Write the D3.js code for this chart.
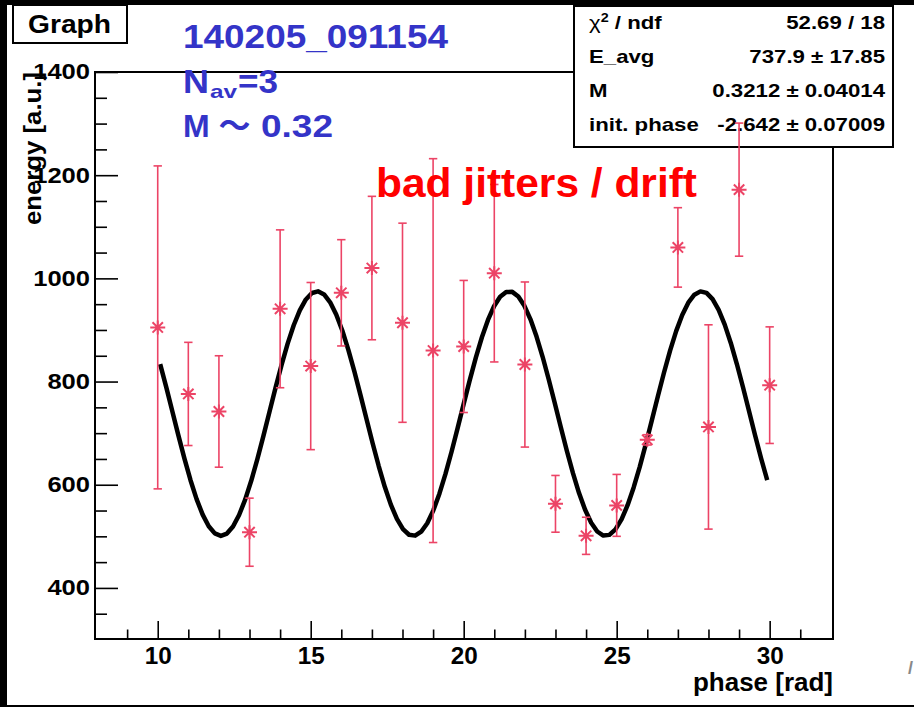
<!DOCTYPE html>
<html>
<head>
<meta charset="utf-8">
<script src="https://cdn.jsdelivr.net/npm/d3@7"></script>
<style>
  html, body { margin: 0; padding: 0; background: #000; }
  svg { display: block; }
  text { font-family: "Liberation Sans", Arial, Helvetica, sans-serif; font-weight: bold; }
</style>
</head>
<body>
<svg id="chart" width="914" height="707"></svg>
<script>
// Measured energy per phase step, with its error
const phase = [10, 11, 12, 13, 14, 15, 16, 17, 18, 19, 20, 21, 22, 23, 24, 25, 26, 27, 28, 29, 30];
const energy = [905, 776, 742, 508, 941, 830, 972, 1020, 914, 860, 868, 1010, 833, 563, 501, 560, 687, 1060, 712, 1172, 793];
const energyErr = [313, 100, 108, 66, 153, 162, 103, 139, 193, 372, 128, 172, 160, 55, 36, 60, 10, 77, 198, 129, 113];

// Fit result: E(phi) = E_avg * (1 + M * cos(phi + init.phase))
const fitEavg = 737.9;
const fitM = 0.3212;
const fitInitPhase = -2.642;
const fitRange = [10.08, 29.92];
const fitSamples = 100;

// Axis ticks
const xMajorTicks = [10, 15, 20, 25, 30];
const xMinorTicks = [9, 11, 12, 13, 14, 16, 17, 18, 19, 21, 22, 23, 24, 26, 27, 28, 29, 31];
const yMajorTicks = [400, 600, 800, 1000, 1200, 1400];
const yMinorTicks = [350, 450, 500, 550, 650, 700, 750, 850, 900, 950, 1050, 1100, 1150, 1250, 1300, 1350];

// Statistics box rows
const statNames = ["χ2 / ndf", "E_avg", "M", "init. phase"];
const statValues = ["52.69 / 18", "737.9 ± 17.85", "0.3212 ± 0.04014", "-2.642 ± 0.07009"];

const svg = d3.select("#chart");
const W = 914, H = 707;
const frame = { left: 95, right: 833, top: 72, bottom: 639 };

const x = d3.scaleLinear().domain([7.95, 32.07]).range([frame.left, frame.right]);
const y = d3.scaleLinear().domain([301, 1400]).range([frame.bottom, frame.top]);

const markColor = "#ec4466";

// widen a text element horizontally by a factor of its natural width
function stretch(sel, factor) {
  sel.each(function () {
    const w = this.getComputedTextLength();
    d3.select(this).attr("textLength", w * factor).attr("lengthAdjust", "spacingAndGlyphs");
  });
  return sel;
}

// page background
svg.append("rect").attr("width", W).attr("height", H).attr("fill", "#000");
svg.append("rect").attr("x", 7).attr("y", 5).attr("width", W - 7).attr("height", 700).attr("fill", "#fff");

// title box
svg.append("rect").attr("x", 13).attr("y", 5).attr("width", 114).attr("height", 38)
  .attr("fill", "#fff").attr("stroke", "#000").attr("stroke-width", 2);
svg.append("text").attr("x", 28).attr("y", 33).attr("font-size", 25.5)
  .attr("textLength", 83).attr("lengthAdjust", "spacingAndGlyphs").text("Graph");

// axes: minor and major ticks, drawn inward
const gx = svg.append("g").attr("transform", `translate(0,${frame.bottom})`);
gx.call(d3.axisBottom(x).tickValues(xMinorTicks).tickSize(-9.5).tickSizeOuter(0).tickFormat(""));
const gxMaj = svg.append("g").attr("transform", `translate(0,${frame.bottom})`);
gxMaj.call(d3.axisBottom(x).tickValues(xMajorTicks).tickSize(-18).tickSizeOuter(0).tickPadding(7.6).tickFormat(d3.format("d")));

const gy = svg.append("g").attr("transform", `translate(${frame.left},0)`);
gy.call(d3.axisLeft(y).tickValues(yMinorTicks).tickSize(-12).tickSizeOuter(0).tickFormat(""));
const gyMaj = svg.append("g").attr("transform", `translate(${frame.left},0)`);
gyMaj.call(d3.axisLeft(y).tickValues(yMajorTicks).tickSize(-23).tickSizeOuter(0).tickPadding(5).tickFormat(d3.format("d")));

svg.selectAll(".domain").remove();
svg.selectAll(".tick line").attr("stroke", "#000").attr("stroke-width", 1.6);
gxMaj.selectAll(".tick text")
  .attr("font-size", 24.5).attr("fill", "#000").attr("font-family", null)
  .each(function () {
    const t = d3.select(this);
    t.attr("textLength", t.text().length * 13.5).attr("lengthAdjust", "spacingAndGlyphs");
  });
gyMaj.selectAll(".tick text")
  .attr("font-size", 21.6).attr("fill", "#000").attr("font-family", null)
  .each(function () {
    const t = d3.select(this);
    t.attr("textLength", t.text().length * 14.2).attr("lengthAdjust", "spacingAndGlyphs");
  });

// frame
svg.append("rect").attr("x", frame.left).attr("y", frame.top)
  .attr("width", frame.right - frame.left).attr("height", frame.bottom - frame.top)
  .attr("fill", "none").attr("stroke", "#000").attr("stroke-width", 2);

// axis titles
svg.append("text").attr("x", 833).attr("y", 691).attr("text-anchor", "end")
  .attr("font-size", 25.5).attr("textLength", 140).attr("lengthAdjust", "spacingAndGlyphs")
  .text("phase [rad]");
svg.append("text").attr("transform", "translate(41,72) rotate(-90)").attr("text-anchor", "end")
  .attr("font-size", 23.5).attr("textLength", 153).attr("lengthAdjust", "spacingAndGlyphs")
  .text("energy [a.u.]");

// statistics box
svg.append("rect").attr("x", 574).attr("y", 6).attr("width", 319).attr("height", 141)
  .attr("fill", "#fff").attr("stroke", "#000").attr("stroke-width", 2);
statNames.forEach((name, i) => {
  const by = 28.5 + i * 34;
  const t = svg.append("text").attr("x", 589).attr("y", by).attr("font-size", 18.5);
  if (name.startsWith("χ2")) {
    t.append("tspan").attr("font-weight", "normal").text("χ");
    t.append("tspan").attr("font-size", 12).attr("dy", -7).text("2");
    t.append("tspan").attr("dy", 7).text(name.slice(2));
  } else {
    t.text(name);
  }
  stretch(t, 1.2);
  const v = svg.append("text").attr("x", 885).attr("y", by).attr("font-size", 18.5)
    .attr("text-anchor", "end").text(statValues[i]);
  stretch(v, 1.2);
});

// fit curve
const fitFn = p => fitEavg * (1 + fitM * Math.cos(p + fitInitPhase));
const fitPts = d3.range(fitSamples + 1).map(i => {
  const p = fitRange[0] + (fitRange[1] - fitRange[0]) * i / fitSamples;
  return [p, fitFn(p)];
});
svg.append("path")
  .attr("d", d3.line().x(d => x(d[0])).y(d => y(d[1]))(fitPts))
  .attr("fill", "none").attr("stroke", "#000").attr("stroke-width", 4.5)
  .attr("stroke-linejoin", "round");

// data points with error bars
const pts = phase.map((p, i) => ({ p, e: energy[i], err: energyErr[i] }));
const gp = svg.append("g").attr("stroke", markColor).attr("fill", "none");
pts.forEach(d => {
  const cx = x(d.p), cy = y(d.e);
  const yt = y(d.e + d.err), yb = y(d.e - d.err);
  gp.append("line").attr("x1", cx).attr("x2", cx).attr("y1", yt).attr("y2", yb).attr("stroke-width", 1.6);
  gp.append("line").attr("x1", cx - 4.2).attr("x2", cx + 4.2).attr("y1", yt).attr("y2", yt).attr("stroke-width", 1.6);
  gp.append("line").attr("x1", cx - 4.2).attr("x2", cx + 4.2).attr("y1", yb).attr("y2", yb).attr("stroke-width", 1.6);
  const s = 7.5, dg = 5.2;
  gp.append("path")
    .attr("d", `M${cx - s},${cy}H${cx + s}M${cx},${cy - s + 0.5}V${cy + s - 0.5}` +
               `M${cx - dg},${cy - dg}L${cx + dg},${cy + dg}M${cx - dg},${cy + dg}L${cx + dg},${cy - dg}`)
    .attr("stroke-width", 2);
});

// annotations
const blue = "#3434c8";
svg.append("text").attr("x", 183).attr("y", 48).attr("font-size", 33).attr("fill", blue)
  .attr("textLength", 265).attr("lengthAdjust", "spacingAndGlyphs").text("140205_091154");
svg.append("text").attr("x", 183).attr("y", 93).attr("font-size", 33).attr("fill", blue)
  .attr("textLength", 26).attr("lengthAdjust", "spacingAndGlyphs").text("N");
svg.append("text").attr("x", 210).attr("y", 98).attr("font-size", 19).attr("fill", blue)
  .attr("textLength", 27).attr("lengthAdjust", "spacingAndGlyphs").text("av");
svg.append("text").attr("x", 238).attr("y", 93).attr("font-size", 33).attr("fill", blue)
  .attr("textLength", 40).attr("lengthAdjust", "spacingAndGlyphs").text("=3");
const mLine = svg.append("text").attr("x", 183).attr("y", 137).attr("font-size", 32).attr("fill", blue);
mLine.append("tspan").text("M ");
mLine.append("tspan").attr("font-family", "'Noto Sans CJK JP', sans-serif").text("～");
mLine.append("tspan").attr("x", 261).attr("textLength", 72).attr("lengthAdjust", "spacingAndGlyphs").text("0.32");

svg.append("text").attr("x", 376).attr("y", 197).attr("font-size", 41).attr("fill", "#ff0000")
  .attr("textLength", 321).attr("lengthAdjust", "spacingAndGlyphs").text("bad jitters / drift");

svg.append("text").attr("x", 908).attr("y", 674).attr("font-size", 18).attr("font-weight", "normal")
  .attr("fill", "#888").text("/");
</script>
</body>
</html>
